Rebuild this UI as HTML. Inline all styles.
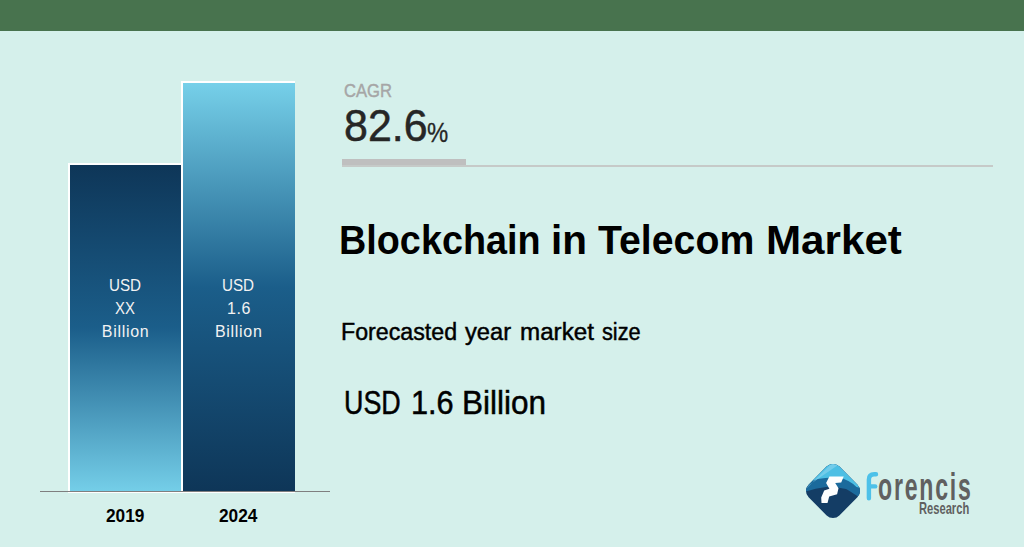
<!DOCTYPE html>
<html>
<head>
<meta charset="utf-8">
<style>
*{margin:0;padding:0;box-sizing:border-box;}
html,body{width:1024px;height:547px;overflow:hidden;background:#D5F0EB;}
body{position:relative;font-family:"Liberation Sans",sans-serif;}
.abs{position:absolute;white-space:nowrap;}
#band{position:absolute;left:0;top:0;width:1024px;height:31px;background:#48734E;}
#axis{position:absolute;left:40px;top:491px;width:290px;height:1px;background:#7F7F7F;}
#b1{position:absolute;left:68px;top:163px;width:114px;height:330px;background:#fff;}
#b1 i{position:absolute;left:2px;top:2px;width:111px;height:326px;background:linear-gradient(180deg,#0E3658 0%,#1B5E8A 50%,#74CEE8 100%);}
#b2{position:absolute;left:181px;top:81px;width:114px;height:412px;background:#fff;}
#b2 i{position:absolute;left:2px;top:2px;width:112px;height:408px;background:linear-gradient(0deg,#0E3658 0%,#1B5E8A 50%,#76D0E9 100%);}
.t{position:absolute;white-space:nowrap;line-height:1;transform-origin:0 0;}
.bl{color:#F2F2F2;font-size:16px;}
.yr{font-weight:bold;font-size:18px;color:#000;}
</style>
</head>
<body>
<div id="band"></div>
<div id="b1"><i></i></div>
<div id="b2"><i></i></div>
<div id="axis"></div>
<div class="t bl" style="left:109.4px;top:278px;transform:scaleX(0.95);">USD</div>
<div class="t bl" style="left:115.2px;top:301px;transform:scaleX(0.93);">XX</div>
<div class="t bl" style="left:101.8px;top:323.5px;letter-spacing:0.7px;">Billion</div>
<div class="t bl" style="left:222.1px;top:278px;transform:scaleX(0.95);">USD</div>
<div class="t bl" style="left:227px;top:301px;letter-spacing:0.6px;">1.6</div>
<div class="t bl" style="left:214.9px;top:323.5px;letter-spacing:0.7px;">Billion</div>
<div class="t yr" style="left:106.3px;top:507.2px;transform:scaleX(0.96);">2019</div>
<div class="t yr" style="left:219.3px;top:507.2px;transform:scaleX(0.96);">2024</div>

<div class="t" id="cagr" style="left:343.5px;top:80.6px;font-size:19px;color:#A6A6A6;transform:scaleX(0.874);-webkit-text-stroke:0.45px #A6A6A6;">CAGR</div>
<div class="t" id="pct" style="left:344px;top:104.2px;font-size:44.2px;color:#262626;transform:scaleX(0.972);-webkit-text-stroke:0.5px #262626;">82.6</div>
<div class="t" id="pcs" style="left:427px;top:119.6px;font-size:27px;color:#262626;transform:scaleX(0.884);-webkit-text-stroke:0.3px #262626;">%</div>
<div class="abs" style="left:342px;top:159px;width:124px;height:6px;background:#BFBFBF;"></div>
<div class="abs" style="left:342px;top:165px;width:651px;height:2px;background:#C6CAC8;"></div>

<div class="t" style="left:339.18px;top:219px;font-size:41.5px;font-weight:bold;color:#000;transform:scaleX(0.9106);">Blockchain</div>
<div class="t" style="left:551.28px;top:219px;font-size:41.5px;font-weight:bold;color:#000;transform:scaleX(0.975);">in</div>
<div class="t" style="left:598.1px;top:219px;font-size:41.5px;font-weight:bold;color:#000;transform:scaleX(0.9454);">Telecom</div>
<div class="t" style="left:765.87px;top:219px;font-size:41.5px;font-weight:bold;color:#000;transform:scaleX(1.0159);">Market</div>
<div class="t" style="left:341.01px;top:321.3px;font-size:23.5px;color:#000;-webkit-text-stroke:0.45px #000;transform:scaleX(0.9871);">Forecasted</div>
<div class="t" style="left:465.4px;top:321.3px;font-size:23.5px;color:#000;-webkit-text-stroke:0.45px #000;transform:scaleX(1.0087);">year</div>
<div class="t" style="left:519.67px;top:321.3px;font-size:23.5px;color:#000;-webkit-text-stroke:0.45px #000;transform:scaleX(1.029);">market</div>
<div class="t" style="left:601.6px;top:321.3px;font-size:23.5px;color:#000;-webkit-text-stroke:0.45px #000;transform:scaleX(0.9244);">size</div>
<div class="t" style="left:344.07px;top:386px;font-size:33px;color:#000;-webkit-text-stroke:0.5px #000;transform:scaleX(0.8149);">USD</div>
<div class="t" style="left:410.54px;top:386px;font-size:33px;color:#000;-webkit-text-stroke:0.5px #000;transform:scaleX(0.9302);">1.6</div>
<div class="t" style="left:461.89px;top:386px;font-size:33px;color:#000;-webkit-text-stroke:0.5px #000;transform:scaleX(0.9553);">Billion</div>

<svg class="abs" style="left:0;top:0;" width="1024" height="547" viewBox="0 0 1024 547">
<defs>
<clipPath id="dm"><rect x="811.25" y="469.25" width="43.5" height="43.5" rx="9" ry="9" transform="rotate(45 833 491)"/></clipPath>
<linearGradient id="hl" x1="0" y1="0" x2="1" y2="0"><stop offset="0" stop-color="#6FCBEA"/><stop offset="1" stop-color="#4DBFE4"/></linearGradient>
</defs>
<g clip-path="url(#dm)">
<rect x="800" y="455" width="70" height="70" fill="#143D65"/>
<path d="M800,455 H870 V500 L857.3,496.1 Q849,490.6 846,489 Q836,486.5 826,487 Q815,488.5 806.8,491.2 L800,494 Z" fill="#1B6A9C"/>
<path d="M800,455 H870 V490 L856.5,487 Q849,479.5 838,477.5 Q827,477 817.7,478.9 Q812,480.5 808,483 L800,487 Z" fill="#4DBFE4"/>
<path d="M806,489 L833,462 L838,465 L809,485 Z" fill="#8DD6EE" opacity="0.6"/>
</g>
<path d="M829.4,476.5 L843.7,476.5 L841.2,482.5 L835.2,483 L838.5,488.3 L837.1,494.3 L829.2,496.5 L827.5,503 L821.5,503 L821.2,497.6 L824.2,490.5 L829.4,488.8 L826.1,483 Z" fill="#FDFEFE"/>
</svg>
<svg class="abs" style="left:0;top:0;" width="1024" height="547" viewBox="0 0 1024 547"><g fill="none" stroke="#4DC1E9" stroke-width="4.4" stroke-linecap="round" stroke-linejoin="round"><path d="M868.9,498.2 V479.5 Q868.9,474.2 874.2,474.2 H876"/><path d="M871,486.4 H875.2"/></g></svg>
<div class="t" id="fo" style="left:878px;top:468px;font-size:38.5px;font-weight:bold;color:#606060;transform:scaleX(0.6);letter-spacing:2.95px;">orencis</div>
<div class="t" id="fr" style="left:918.6px;top:500px;font-size:16.3px;font-weight:bold;color:#606060;transform:scaleX(0.685);">Research</div>
</body>
</html>
